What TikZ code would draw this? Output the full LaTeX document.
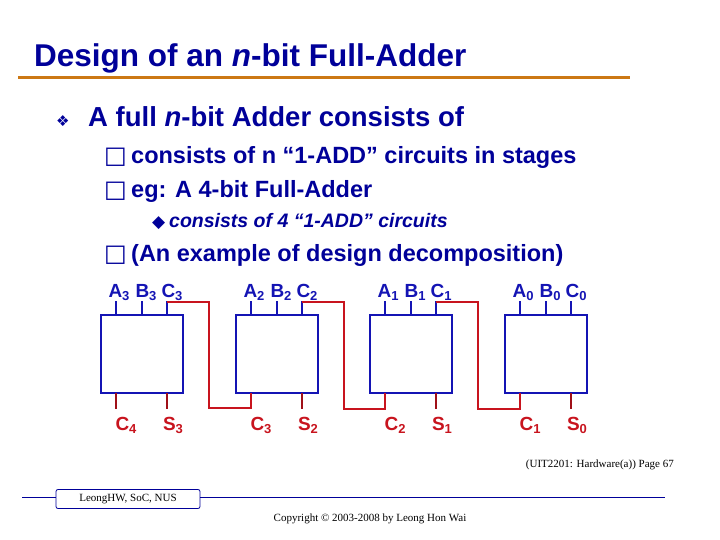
\documentclass[tikz,border=0pt]{standalone}
\usepackage{fontspec}
\setmainfont{Liberation Sans}
\newfontfamily\dejavu{DejaVu Sans}
\newfontfamily\serifx{Liberation Serif}
\definecolor{tblue}{RGB}{0,0,153}
\definecolor{bblue}{RGB}{20,20,180}
\definecolor{wred}{RGB}{200,20,30}
\definecolor{orng}{RGB}{204,120,20}
\newcommand{\sbx}[1]{\raisebox{-0.35ex}{\fontsize{13}{14}\selectfont #1}}
\begin{document}
\begin{tikzpicture}[x=1pt,y=-1pt,
  txt/.style={anchor=base west,inner sep=0pt,text=tblue,font=\bfseries},
  adder/.style={draw=bblue,line width=1.5pt},
  pin/.style={draw=bblue,line width=1.5pt},
  opin/.style={draw=wred!80!black,line width=1.5pt},
  wire/.style={draw=wred,line width=1.8pt},
  inl/.style={text=bblue,font=\bfseries\fontsize{19}{20}\selectfont,inner sep=0pt,anchor=base},
  outl/.style={text=wred,font=\bfseries\fontsize{19}{20}\selectfont,inner sep=0pt,anchor=base}]
\useasboundingbox (0,0) rectangle (720,540);
\node[txt,font=\bfseries\fontsize{31.5}{34}\selectfont] (title) at (34,67) {Design of an \textit{n}-bit Full-Adder};
\draw[orng,line width=3pt] (18,78) -- (630,78);
\node[txt,font=\fontsize{15}{16}\selectfont] (b1) at (56,127) {\dejavu ❖};
\node[txt,font=\bfseries\fontsize{27.5}{30}\selectfont] (t1) at (88,127) {A full \textit{n}-bit Adder consists of};
\node[txt,font=\fontsize{24}{26}\selectfont] (b2) at (104,164) {\dejavu □};
\node[txt,font=\bfseries\fontsize{23.5}{26}\selectfont] (t2) at (131,164) {consists of n “1-ADD” circuits in stages};
\node[txt,font=\fontsize{24}{26}\selectfont] (b3) at (104,197) {\dejavu □};
\node[txt,font=\bfseries\fontsize{23.5}{26}\selectfont] (t3) at (131,197) {eg: A 4-bit Full-Adder};
\node[txt,font=\fontsize{17}{18}\selectfont] (b4) at (152,227) {\dejavu ◆};
\node[txt,font=\bfseries\itshape\fontsize{19.5}{22}\selectfont] (t4) at (169,227) {consists of 4 “1-ADD” circuits};
\node[txt,font=\fontsize{24}{26}\selectfont] (b5) at (104,261) {\dejavu □};
\node[txt,font=\bfseries\fontsize{23.5}{26}\selectfont] (t5) at (131,261) {(An example of design decomposition)};
% adders
\foreach \i/\x in {3/101,2/236,1/370,0/505}{
  \draw[adder] (\x,315) rectangle (\x+82,393);
  \coordinate (a\i) at (\x+15,315);
  \coordinate (b\i) at (\x+41,315);
  \coordinate (c\i) at (\x+66,315);
  \coordinate (co\i) at (\x+15,393);
  \coordinate (s\i) at (\x+66,393);
  \draw[pin] (a\i) -- ++(0,-14);
  \draw[pin] (b\i) -- ++(0,-14);
  \draw[pin] (c\i) -- ++(0,-14);
  \draw[opin] (co\i) -- ++(0,16);
  \draw[opin] (s\i) -- ++(0,16);
  \node[inl] (la\i) at (\x+18,297) {A\sbx{\i}};
  \node[inl] (lb\i) at (\x+45,297) {B\sbx{\i}};
  \node[inl] (lc\i) at (\x+71,297) {C\sbx{\i}};
  \node[outl] (ls\i) at (\x+72,430) {S\sbx{\i}};
}
\node[outl] (lco3) at (126,430) {C\sbx{4}};
\node[outl] (lco2) at (261,430) {C\sbx{3}};
\node[outl] (lco1) at (395,430) {C\sbx{2}};
\node[outl] (lco0) at (530,430) {C\sbx{1}};
\draw[wire] (c3)++(0,-13) -| (209,408) -| (co2);
\draw[wire] (c2)++(0,-13) -| (344,409) -| (co1);
\draw[wire] (c1)++(0,-13) -| (478,409) -| (co0);
% footer
\draw[tblue,line width=0.8pt] (22,497) -- (56,497);
\draw[tblue,line width=0.8pt] (200,497) -- (665,497);
\node[draw=tblue,line width=0.8pt,rounded corners=2pt,minimum width=144pt,minimum height=19pt,inner sep=0pt,font=\serifx\fontsize{11}{12}\selectfont] (fb) at (128,499) {LeongHW, SoC, NUS};
\node[anchor=base east,inner sep=0pt,font=\serifx\fontsize{11}{12}\selectfont] (pg) at (674,467) {(UIT2201: Hardware(a)) Page 67};
\node[anchor=base,inner sep=0pt,font=\serifx\fontsize{11}{12}\selectfont] (cp) at (370,521) {Copyright © 2003-2008 by Leong Hon Wai};
\end{tikzpicture}
\end{document}
